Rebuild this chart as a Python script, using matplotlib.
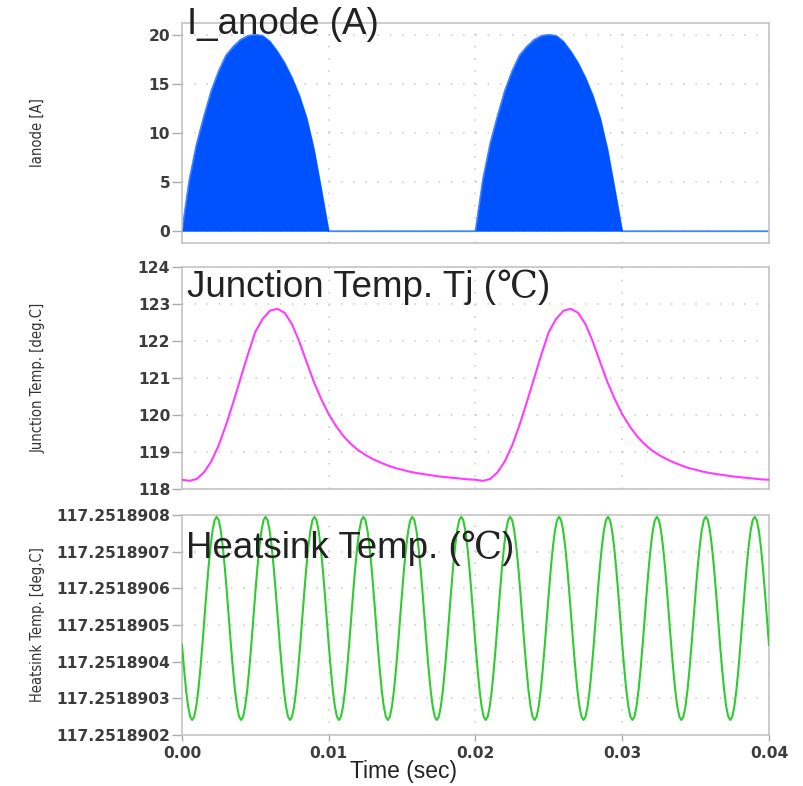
import numpy as np
import matplotlib
matplotlib.use("Agg")
import matplotlib.pyplot as plt
from matplotlib.ticker import FixedLocator, FormatStrFormatter

# ---------------- data ----------------
x_ticks = [0.00, 0.01, 0.02, 0.03, 0.04]

# I_anode envelope (A), sampled every 0.0005 s from 0 to 0.04 s
ianode_t = np.linspace(0.0, 0.04, 81)
ianode = [
    0.0, 5.2, 8.9, 11.7, 14.3, 16.3, 17.9, 18.8, 19.5, 19.9, 20.0,
    19.9, 19.3, 18.3, 17.1, 15.6, 13.8, 11.5, 8.3, 4.2, 0.0,
    0.0, 0.0, 0.0, 0.0, 0.0, 0.0, 0.0, 0.0, 0.0, 0.0,
    0.0, 0.0, 0.0, 0.0, 0.0, 0.0, 0.0, 0.0, 0.0, 0.0,
    5.2, 8.9, 11.7, 14.3, 16.3, 17.9, 18.8, 19.5, 19.9, 20.0,
    19.9, 19.3, 18.3, 17.1, 15.6, 13.8, 11.5, 8.3, 4.2, 0.0,
    0.0, 0.0, 0.0, 0.0, 0.0, 0.0, 0.0, 0.0, 0.0, 0.0,
    0.0, 0.0, 0.0, 0.0, 0.0, 0.0, 0.0, 0.0, 0.0, 0.0,
]
ianode_ticks = [0, 5, 10, 15, 20]

# Junction temperature (deg C), sampled every 0.0005 s
tj_t = np.linspace(0.0, 0.04, 81)
tj = [
    118.25, 118.22, 118.27, 118.45, 118.75, 119.18, 119.73, 120.35, 121.00, 121.65,
    122.25, 122.60, 122.82, 122.87, 122.76, 122.45, 121.98, 121.42, 120.88, 120.42,
    120.02, 119.70, 119.43, 119.22, 119.05, 118.92, 118.81, 118.72, 118.64, 118.57,
    118.52, 118.47, 118.43, 118.40, 118.37, 118.34, 118.32, 118.30, 118.28, 118.26,
    118.25, 118.22, 118.27, 118.45, 118.75, 119.18, 119.73, 120.35, 121.00, 121.65,
    122.25, 122.60, 122.82, 122.87, 122.76, 122.45, 121.98, 121.42, 120.88, 120.42,
    120.02, 119.70, 119.43, 119.22, 119.05, 118.92, 118.81, 118.72, 118.64, 118.57,
    118.52, 118.47, 118.43, 118.40, 118.37, 118.34, 118.32, 118.30, 118.28, 118.26,
    118.25,
]
tj_ticks = [118, 119, 120, 121, 122, 123, 124]

# Heatsink temperature: base + deviation (deviation in units of 1e-7 deg C)
hs_base = 117.25189
hs_t = np.linspace(0.0, 0.04, 289)
hs_dev = [
    4.46, 3.80, 3.22, 2.78, 2.50, 2.41, 2.50, 2.78, 3.22, 3.80, 4.46, 5.18, 5.90, 6.57, 7.14, 7.58, 7.86, 7.95, 7.86, 7.58, 7.14, 6.57, 5.90, 5.18,
    4.46, 3.80, 3.22, 2.78, 2.50, 2.41, 2.50, 2.78, 3.22, 3.80, 4.46, 5.18, 5.90, 6.57, 7.14, 7.58, 7.86, 7.95, 7.86, 7.58, 7.14, 6.57, 5.90, 5.18,
    4.46, 3.80, 3.22, 2.78, 2.50, 2.41, 2.50, 2.78, 3.22, 3.80, 4.46, 5.18, 5.90, 6.57, 7.14, 7.58, 7.86, 7.95, 7.86, 7.58, 7.14, 6.57, 5.90, 5.18,
    4.46, 3.80, 3.22, 2.78, 2.50, 2.41, 2.50, 2.78, 3.22, 3.80, 4.46, 5.18, 5.90, 6.57, 7.14, 7.58, 7.86, 7.95, 7.86, 7.58, 7.14, 6.57, 5.90, 5.18,
    4.46, 3.80, 3.22, 2.78, 2.50, 2.41, 2.50, 2.78, 3.22, 3.80, 4.46, 5.18, 5.90, 6.57, 7.14, 7.58, 7.86, 7.95, 7.86, 7.58, 7.14, 6.57, 5.90, 5.18,
    4.46, 3.80, 3.22, 2.78, 2.50, 2.41, 2.50, 2.78, 3.22, 3.80, 4.46, 5.18, 5.90, 6.57, 7.14, 7.58, 7.86, 7.95, 7.86, 7.58, 7.14, 6.57, 5.90, 5.18,
    4.46, 3.80, 3.22, 2.78, 2.50, 2.41, 2.50, 2.78, 3.22, 3.80, 4.46, 5.18, 5.90, 6.57, 7.14, 7.58, 7.86, 7.95, 7.86, 7.58, 7.14, 6.57, 5.90, 5.18,
    4.46, 3.80, 3.22, 2.78, 2.50, 2.41, 2.50, 2.78, 3.22, 3.80, 4.46, 5.18, 5.90, 6.57, 7.14, 7.58, 7.86, 7.95, 7.86, 7.58, 7.14, 6.57, 5.90, 5.18,
    4.46, 3.80, 3.22, 2.78, 2.50, 2.41, 2.50, 2.78, 3.22, 3.80, 4.46, 5.18, 5.90, 6.57, 7.14, 7.58, 7.86, 7.95, 7.86, 7.58, 7.14, 6.57, 5.90, 5.18,
    4.46, 3.80, 3.22, 2.78, 2.50, 2.41, 2.50, 2.78, 3.22, 3.80, 4.46, 5.18, 5.90, 6.57, 7.14, 7.58, 7.86, 7.95, 7.86, 7.58, 7.14, 6.57, 5.90, 5.18,
    4.46, 3.80, 3.22, 2.78, 2.50, 2.41, 2.50, 2.78, 3.22, 3.80, 4.46, 5.18, 5.90, 6.57, 7.14, 7.58, 7.86, 7.95, 7.86, 7.58, 7.14, 6.57, 5.90, 5.18,
    4.46, 3.80, 3.22, 2.78, 2.50, 2.41, 2.50, 2.78, 3.22, 3.80, 4.46, 5.18, 5.90, 6.57, 7.14, 7.58, 7.86, 7.95, 7.86, 7.58, 7.14, 6.57, 5.90, 5.18,
    4.46,
]
hs_ticks = [117.2518902, 117.2518903, 117.2518904, 117.2518905,
            117.2518906, 117.2518907, 117.2518908]

# titles split into (sans part, serif degree sign part, closing part)
titles = [
    ("I_anode (A)", "", ""),
    ("Junction Temp. Tj (", "\u2103", ")"),
    ("Heatsink Temp. (", "\u2103", ")"),
]
ylabels = ["Ianode [A]", "Junction Temp. [deg.C]", "Heatsink Temp. [deg.C]"]
xlabel = "Time (sec)"

# ---------------- figure ----------------
W, H = 804, 786
fig = plt.figure(figsize=(W / 100, H / 100), dpi=100)

def ax_rect(left, top, right, bottom):
    return [left / W, 1 - bottom / H, (right - left) / W, (bottom - top) / H]

ax1 = fig.add_axes(ax_rect(182, 23, 769, 243))
ax2 = fig.add_axes(ax_rect(182, 267, 769, 489))
ax3 = fig.add_axes(ax_rect(182, 515, 769, 735))
axes = [ax1, ax2, ax3]

# panel 1
ax1.plot(ianode_t, ianode, color="#3f85ff", lw=1.3, zorder=2)
ax1.fill_between(ianode_t, 0, ianode, color="#0052ff", lw=0, zorder=3)
ax1.set_ylim(-1.2, 21.2)
ax1.yaxis.set_major_locator(FixedLocator(ianode_ticks))
ax1.yaxis.set_major_formatter(FormatStrFormatter("%d"))

# panel 2
ax2.plot(tj_t, tj, color="#ff3cff", lw=1.5, zorder=3)
ax2.set_ylim(118, 124)
ax2.yaxis.set_major_locator(FixedLocator(tj_ticks))
ax2.yaxis.set_major_formatter(FormatStrFormatter("%d"))

# panel 3
hs = hs_base + np.array(hs_dev) * 1e-7
ax3.plot(hs_t, hs, color="#2fcc2f", lw=1.5, zorder=3)
ax3.set_ylim(hs_ticks[0], hs_ticks[-1])
ax3.yaxis.set_major_locator(FixedLocator(hs_ticks))
ax3.yaxis.set_major_formatter(FormatStrFormatter("%.7f"))

title_y = [0.952, 0.866, 0.803]
title_x = [0.009, 0.009, 0.006]
title_texts = []
for ax, title, ylab, ty, tx in zip(axes, titles, ylabels, title_y, title_x):
    ax.set_xlim(0, 0.04)
    ax.xaxis.set_major_locator(FixedLocator(x_ticks))
    ax.xaxis.set_major_formatter(FormatStrFormatter("%.2f"))
    ax.grid(True, color="#c8c8c8", linestyle=(0, (1, 7)), lw=1.1, zorder=1)
    for s in ax.spines.values():
        s.set_color("#c4c4c4")
        s.set_linewidth(1.2)
    ax.tick_params(axis="y", length=7.5, width=1, color="#aaaaaa",
                   labelcolor="#3c3c3c", pad=1)
    ax.tick_params(axis="x", length=4, width=1, color="#aaaaaa",
                   labelcolor="#3c3c3c", pad=4)
    for lab in ax.get_yticklabels() + ax.get_xticklabels():
        lab.set_fontfamily("DejaVu Sans")
        lab.set_fontweight("bold")
        lab.set_fontsize(11.2)
    ax.set_ylabel(ylab, fontsize=10.5, color="#333333",
                  family="DejaVu Sans", stretch="condensed")
    ax.yaxis.set_label_coords(-0.233, 0.5)
    t0 = ax.text(tx, ty, title[0], transform=ax.transAxes, fontsize=26.5,
                 color="#222222", family="Liberation Sans", va="baseline",
                 ha="left", zorder=5)
    title_texts.append((ax, t0, title, ty))

ax1.tick_params(axis="x", length=0, labelbottom=False)
ax2.tick_params(axis="x", length=0, labelbottom=False)
ax3.set_xlabel(xlabel, fontsize=16.5, color="#222222", family="Liberation Sans")
ax3.xaxis.set_label_coords((404 - 182) / 587, -0.164)
ax3.xaxis.label.set_va("center")

# append serif degree sign and closing parenthesis after the sans part
fig.canvas.draw()
renderer = fig.canvas.get_renderer()
for ax, t0, title, ty in title_texts:
    prev = t0
    for piece, fam in ((title[1], "DejaVu Serif"), (title[2], "Liberation Sans")):
        if not piece:
            continue
        bb = prev.get_window_extent(renderer=renderer)
        x_ax = ax.transAxes.inverted().transform((bb.x1, bb.y0))[0]
        prev = ax.text(x_ax, ty, piece, transform=ax.transAxes, fontsize=26.5,
                       color="#222222", family=fam, va="baseline", ha="left",
                       zorder=5)
        fig.canvas.draw()

fig.savefig("out.png", dpi=100)
